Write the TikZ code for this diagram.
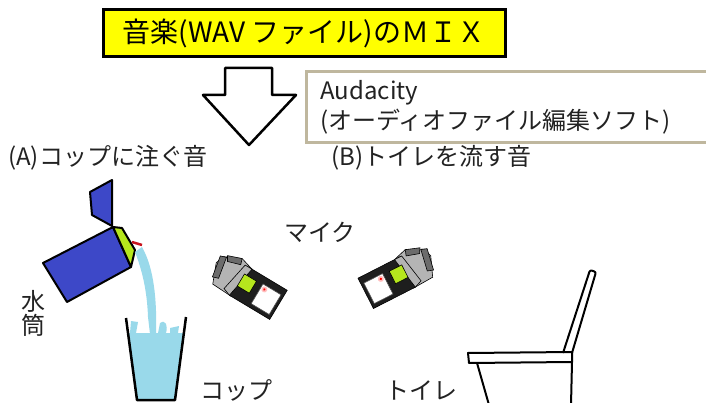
\documentclass[tikz,border=0pt]{standalone}
\usepackage{fontspec}
\setmainfont{Noto Sans CJK JP}
\usetikzlibrary{positioning}
\definecolor{Ink}{HTML}{222222}
\definecolor{TitleYellow}{HTML}{FFFF00}
\definecolor{FrameTan}{HTML}{BFB79E}
\definecolor{Carton}{HTML}{3D48C8}
\definecolor{CapGreen}{HTML}{B5E61D}
\definecolor{Spout}{HTML}{C8141E}
\definecolor{Water}{HTML}{99D9EA}
\definecolor{MicBody}{HTML}{1E1E1E}
\definecolor{MicGrey}{HTML}{B4B4B4}
\definecolor{MicDark}{HTML}{6C6C6C}
\tikzset{
  jtext/.style={text=Ink,font=\fontsize{24}{30}\selectfont,inner sep=0pt},
  titlebox/.style={draw=black,fill=TitleYellow,line width=3pt,minimum width=402pt,minimum height=47pt,font=\fontsize{28}{34}\selectfont},
  softbox/.style={draw=FrameTan,line width=3pt,text width=400pt,inner xsep=14pt,minimum height=71pt,align=left,text=Ink,font=\fontsize{24}{30}\selectfont},
  outline/.style={draw=black,line width=2pt,line join=round},
  recorder/.pic={
    % grille guard
    \filldraw[MicGrey,draw=black,line width=.6pt] (-16,-17) -- (-30,-21) -- (-47,-13) -- (-50,-4) -- (-42,16) -- (-20,17) -- cycle;
    \filldraw[MicDark,draw=black,line width=.6pt] (-50,-12) -- (-44,-14) -- (-40,8) -- (-46,10) -- cycle;
    \filldraw[MicDark,draw=black,line width=.6pt] (-44,-16) -- (-30,-21) -- (-28,-15) -- (-41,-11) -- cycle;
    % body, screen and button panel
    \filldraw[fill=MicBody,draw=black,line width=.6pt] (-22,-17) rectangle (25,17);
    \filldraw[MicGrey,draw=black,line width=.6pt] (-24,-17) -- (-16,-17) -- (-22,17) -- (-30,14) -- cycle;
    \filldraw[CapGreen,draw=black,line width=.6pt] (-20,-9) rectangle (-6,5);
    \filldraw[white,draw=black!70,line width=.6pt] (1,-10) rectangle (22,13);
    \fill[red!25] (5,-6) circle (3);
    \fill[red] (5,-6) circle (1.3);
  }
}
\begin{document}
\begin{tikzpicture}[x=1pt,y=-1pt]
  \useasboundingbox (0,0) rectangle (706,403);
  \clip (0,0) rectangle (706,403);

  % heading and software note
  \node[titlebox] (title) at (304,33) {音楽(WAV ファイル)のＭＩＸ};
  \node[softbox,anchor=north west] (tool) at (305,70) {Audacity\\(オーディオファイル編集ソフト)};

  % big down arrow
  \draw[outline,line width=2.5pt,fill=white] (225,68) -- (272,68) -- (272,95) -- (296,95) -- (249,145) -- (203,95) -- (225,95) -- cycle;

  \node[jtext,anchor=west] (soundA) at (8,158) {(A)コップに注ぐ音};
  \node[jtext,anchor=west] (soundB) at (331,158) {(B)トイレを流す音};

  % water bottle pouring into a cup
  \filldraw[fill=Carton,outline] (90,192) -- (112,180) -- (112,226) -- (92,215) -- cycle;
  \filldraw[fill=Carton,outline] (43,263) -- (113,227) -- (131,267) -- (67,302) -- cycle;
  \filldraw[fill=CapGreen,outline] (113,227) -- (122,228) -- (135,250) -- (131,267) -- cycle;
  \draw[Spout,line width=2.5pt] (132,242) -- (142,245);
  \fill[Water] (135,252) .. controls (142,270) and (147,290) .. (148,317)
    -- (150,334) -- (156,334) .. controls (157,300) and (154,268) .. (142,247) -- cycle;
  \fill[Water] (128,333) -- (184,333) -- (175,400) -- (137,400) -- cycle;
  \fill[Water] (131,321) -- (138,322) -- (136,333) -- (130,333) -- cycle;
  \fill[Water] (160,323) .. controls (166,319) and (168,326) .. (166,333) -- (158,333) -- cycle;
  \fill[Water] (170,328) -- (179,326) -- (178,333) -- (170,333) -- cycle;
  \draw[outline,line width=2.5pt] (126,318) -- (137,400) -- (175,400) -- (186,317);
  \node[jtext] (bottle) at (33,316) {\begin{tabular}{@{}c@{}}水\\[-6pt]筒\end{tabular}};
  \node[jtext] (cup) at (236,390) {コップ};

  % recorders
  \pic (micA) at (257,292) [rotate=-31] {recorder};
  \pic (micB) at (388,282) [rotate=27,xscale=-1] {recorder};
  \node[jtext] (mics) at (320,232) {マイク};

  % toilet
  \draw[outline,rounded corners=2pt] (563,353) -- (590,270) -- (596,272) -- (572,353);
  \draw[outline] (468,353) -- (572,352) -- (572,362) -- (469,363) -- cycle;
  \draw[outline] (477,363) -- (489,405);
  \draw[outline] (572,362) -- (571,405);
  \node[jtext] (toilet) at (421,390) {トイレ};
\end{tikzpicture}
\end{document}
